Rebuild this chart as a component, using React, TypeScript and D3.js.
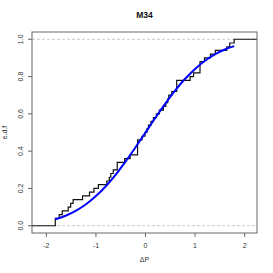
import React from 'react'
import * as d3 from 'd3'

const obsValues = [
  -1.82, -1.82, -1.74, -1.68, -1.56, -1.51, -1.46, -1.27, -1.13, -1.04,
  -0.95, -0.78, -0.73, -0.70, -0.65, -0.57, -0.57, -0.42, -0.31, -0.16,
  -0.16, -0.16, -0.16, -0.07, -0.01, 0.03, 0.06, 0.11, 0.16, 0.22,
  0.28, 0.36, 0.41, 0.45, 0.47, 0.53, 0.63, 0.63, 0.63, 0.90,
  0.97, 1.10, 1.10, 1.10, 1.19, 1.31, 1.41, 1.64, 1.70, 1.79,
]

// fitted cdf (blue curve)
const fitX = [-1.82, -1.6, -1.4, -1.2, -1.0, -0.8, -0.6, -0.4, -0.2, 0, 0.2, 0.4, 0.6, 0.8, 1.0, 1.2, 1.4, 1.6, 1.79]
const fitY = [0.035, 0.055, 0.081, 0.115, 0.159, 0.212, 0.274, 0.345, 0.421, 0.5, 0.579, 0.655, 0.726, 0.788, 0.841, 0.885, 0.919, 0.945, 0.963]

const xTicks = [-2, -1, 0, 1, 2]
const yTicks = [0, 0.2, 0.4, 0.6, 0.8, 1]

const title = 'M34'
const xLabel = 'ΔP'
const yLabel = 'e.d.f'

export default function App() {
  const W = 273, H = 273
  const left = 32, right = 257, top = 32, bottom = 233

  const x = d3.scaleLinear().domain([-2.29, 2.25]).range([left, right])
  const y = d3.scaleLinear().domain([-0.039, 1.039]).range([bottom, top])

  // ecdf steps
  const n = obsValues.length
  const uniq = Array.from(new Set(obsValues))
  const steps: [number, number][] = [[-2.29, 0]]
  uniq.forEach(v => {
    steps.push([v, obsValues.filter(o => o <= v).length / n])
  })
  steps.push([2.25, 1])

  const stepLine = d3.line<[number, number]>()
    .x(d => x(d[0]))
    .y(d => y(d[1]))
    .curve(d3.curveStepAfter)

  const fitLine = d3.line<number>()
    .x((d, i) => x(fitX[i]))
    .y(d => y(d))
    .curve(d3.curveMonotoneX)

  const font = 'Liberation Sans, Arial, sans-serif'

  return (
    <svg width={W} height={H} style={{ position: 'absolute', left: 0, top: 0 }} fontFamily={font}>
      <rect width={W} height={H} fill="#fff" />
      <text x={(left + right) / 2} y={18} textAnchor="middle" fontSize={8.5} fontWeight="bold" fill="#111">{title}</text>

      {[0, 1].map(v => (
        <line key={v} x1={left} x2={right} y1={y(v)} y2={y(v)} stroke="#bbb" strokeWidth={0.8} strokeDasharray="3,2" />
      ))}

      <path d={stepLine(steps) || ''} fill="none" stroke="#111" strokeWidth={1.2} />
      <path d={fitLine(fitY) || ''} fill="none" stroke="#0000ff" strokeWidth={2} />

      <rect x={left} y={top} width={right - left} height={bottom - top} fill="none" stroke="#666" strokeWidth={1} />

      {xTicks.map(t => (
        <g key={t}>
          <line x1={x(t)} x2={x(t)} y1={bottom} y2={bottom + 4} stroke="#666" />
          <text x={x(t)} y={bottom + 15} textAnchor="middle" fontSize={7} fill="#333">{t}</text>
        </g>
      ))}
      {yTicks.map(t => (
        <g key={t}>
          <line x1={left - 4} x2={left} y1={y(t)} y2={y(t)} stroke="#666" />
          <text transform={`translate(${left - 9},${y(t)}) rotate(-90)`} textAnchor="middle" fontSize={7} fill="#333">{t.toFixed(1)}</text>
        </g>
      ))}

      <text x={(left + right) / 2} y={262} textAnchor="middle" fontSize={7} fill="#333">{xLabel}</text>
      <text transform={`translate(7,${(top + bottom) / 2}) rotate(-90)`} textAnchor="middle" fontSize={7} fill="#333">{yLabel}</text>
    </svg>
  )
}
